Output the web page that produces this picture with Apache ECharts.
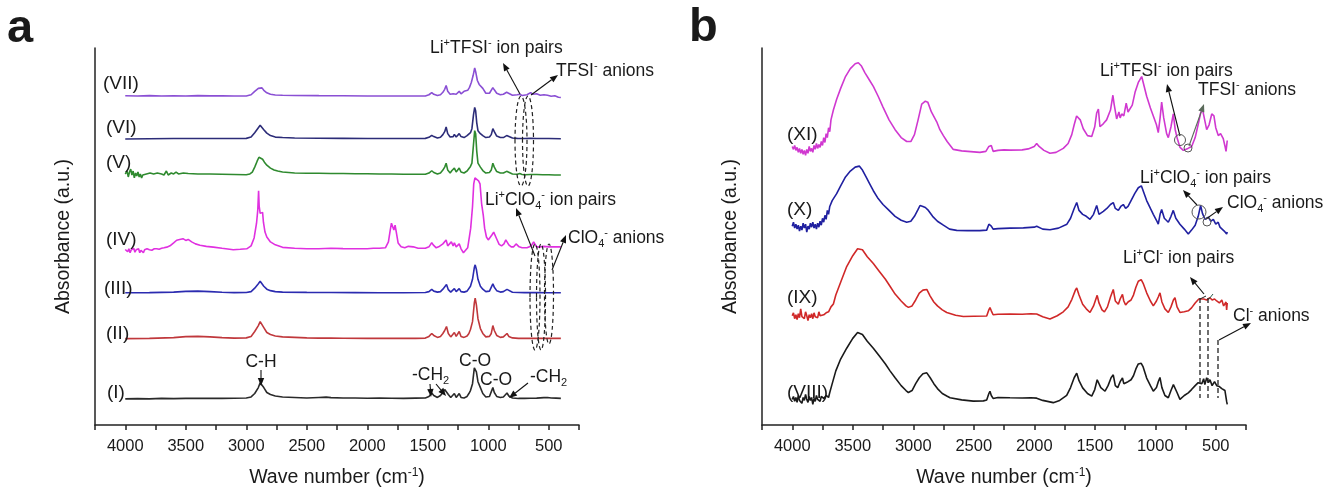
<!DOCTYPE html>
<html><head><meta charset="utf-8">
<script src="https://cdn.jsdelivr.net/npm/echarts@6/dist/echarts.min.js"></script>
<style>html,body{margin:0;padding:0;background:#fff}#c{width:1323px;height:494px}</style>
</head><body><div id="c"></div>
<script>
// ---------- tick labels ----------
const tickLabels = [500,1000,1500,2000,2500,3000,3500,4000];

// ---------- panel a spectra: [wavenumber, absorbance (a.u., offset)] ----------
const specI = [[4000,26.5],[3900,26.8],[3800,26.5],[3700,27],[3600,26.8],[3500,27],[3400,27.2],[3300,27],[3200,27],[3100,27.2],[3000,27.5],[2960,28.5],[2930,32],[2900,38],[2885,43],[2870,42.5],[2855,38],[2830,33],[2800,31],[2760,29.5],[2700,28.5],[2600,28],[2500,27.5],[2400,28],[2340,28.3],[2300,27.8],[2200,27.5],[2100,27.5],[2000,27.2],[1900,27.3],[1800,27.2],[1700,27],[1600,27.3],[1520,27.5],[1490,29],[1467,32.5],[1450,30],[1420,28],[1395,30],[1375,33],[1360,36],[1345,37.5],[1330,31],[1310,28],[1295,30],[1280,32],[1265,28],[1250,30],[1240,32],[1225,28],[1200,27.5],[1175,29],[1160,32],[1147,35],[1130,42],[1115,58],[1108,60],[1098,54],[1085,44],[1065,38],[1045,32],[1020,28.5],[990,29],[975,31],[962,38],[950,33],[930,29],[900,28],[875,28.5],[860,30],[845,32.5],[830,29.5],[800,27.5],[750,27],[700,27],[650,27.2],[600,27.3],[540,27.8],[510,28],[480,27.5],[440,27.3],[400,27]];
const specII = [[4000,87.8],[3800,88],[3600,88.8],[3500,89.8],[3400,90],[3300,89.5],[3200,88.8],[3100,88.3],[3000,88.5],[2960,90],[2930,95],[2900,101],[2885,105],[2870,104],[2855,99],[2830,94],[2800,92],[2760,90.5],[2700,89.5],[2600,89],[2500,88.5],[2400,88.3],[2300,88.3],[2200,88.2],[2000,88],[1800,88],[1600,88],[1520,88.3],[1490,90],[1467,93],[1450,91],[1420,89],[1395,90],[1375,93],[1360,96],[1345,100],[1330,93],[1310,89.5],[1295,91.5],[1280,94],[1265,90],[1250,92],[1240,95],[1225,90],[1200,89],[1175,90.5],[1160,93],[1147,97],[1130,105],[1115,124],[1108,129],[1098,122],[1085,108],[1065,98],[1045,93],[1020,89.5],[990,90],[975,93],[962,101],[950,96],[930,91],[900,89],[875,89.5],[860,91],[845,93],[830,90],[800,88.5],[750,88],[650,88],[550,88.2],[450,88],[400,88]];
const specIII = [[4000,134.3],[3800,134.5],[3600,135],[3500,135.8],[3400,136],[3300,135.5],[3200,134.8],[3100,134.5],[3000,134.6],[2960,135.5],[2930,139],[2900,143.5],[2885,146],[2870,145],[2855,141],[2830,138],[2800,136.5],[2760,135.5],[2700,135],[2500,134.7],[2300,134.6],[2100,134.5],[1900,134.4],[1700,134.4],[1520,134.6],[1490,135.5],[1467,137.8],[1450,136],[1420,135],[1395,135.5],[1375,138],[1360,140],[1345,142.7],[1330,137.5],[1310,135],[1295,136.5],[1280,138.5],[1265,135.5],[1250,137],[1240,138.5],[1225,135.5],[1200,135],[1175,136],[1160,138],[1147,141],[1130,148],[1115,160],[1108,162.7],[1098,158],[1085,148],[1065,141],[1045,138],[1020,135.5],[990,136],[975,138],[962,143.3],[950,140],[930,136.5],[900,135],[875,135.5],[860,136.5],[845,137.8],[830,136],[800,134.8],[700,134.5],[600,134.5],[500,134.4],[400,134.3]];
const specIV = [[4000,178.3],[3990,180],[3980,176],[3970,179],[3960,175],[3950,178],[3940,176.5],[3930,179.5],[3920,175.5],[3910,178],[3900,176],[3890,179],[3880,175],[3870,177.5],[3860,176],[3850,175],[3840,178],[3830,176],[3820,179],[3810,177],[3800,178],[3780,177.5],[3760,179],[3740,179],[3720,178.5],[3700,179.5],[3680,180],[3657,180.7],[3630,182],[3600,185],[3575,187.7],[3550,188.5],[3523,189.3],[3500,187.5],[3480,188.5],[3451,186],[3420,184],[3382,182.7],[3330,181.5],[3272,180.7],[3200,179.5],[3107,178],[3050,178.5],[2996,179],[2960,182],[2935,190],[2915,205],[2905,218],[2898,238],[2893,222],[2885,215],[2875,213],[2865,216],[2858,206],[2845,196],[2830,191],[2800,186],[2760,183],[2700,180.5],[2600,179.5],[2500,179],[2400,179],[2300,179.5],[2200,179.2],[2100,179],[2000,179],[1950,179.5],[1900,179.5],[1850,180],[1825,186],[1810,198],[1800,205],[1790,203],[1780,198],[1770,203],[1760,196],[1745,185],[1720,181],[1690,180],[1660,181.5],[1645,182],[1620,181],[1580,179.5],[1520,179.5],[1490,181],[1467,185.3],[1455,183],[1430,180],[1410,181],[1395,182],[1375,184],[1360,186],[1348,188],[1335,182],[1320,183],[1305,186],[1290,182],[1280,185],[1265,181],[1250,182],[1240,184],[1225,179],[1205,175],[1190,175.5],[1170,180],[1155,192],[1145,200],[1130,222],[1120,245],[1110,251],[1095,250],[1080,248],[1068,245],[1055,225],[1041,213],[1030,200],[1015,191],[1000,188],[985,190],[970,193],[955,196],[944,195],[930,189],[910,183.5],[890,182],[870,184],[855,188],[845,187],[830,183],[810,181],[790,181],[770,184],[760,184.5],[745,181],[720,180],[700,180],[680,180],[660,181],[640,183],[625,186],[612,184],[600,181],[570,181],[540,181.5],[500,181],[460,181],[430,181],[400,181]];
const specV = [[4000,255],[3985,258],[3975,252],[3965,257],[3955,260],[3945,254],[3935,258],[3925,251],[3915,256],[3905,253],[3895,257],[3885,252],[3875,255],[3865,251],[3855,254],[3840,252],[3825,255],[3810,253],[3795,256],[3780,254],[3765,255],[3750,253.5],[3735,256],[3720,254],[3700,255],[3680,254],[3660,258],[3645,254],[3620,256],[3600,255],[3580,257],[3560,255],[3520,256],[3480,255.5],[3400,255],[3300,255],[3200,254.8],[3100,254.5],[3000,254.2],[2970,255],[2950,257],[2930,262],[2910,268],[2895,272],[2880,273],[2865,270],[2850,267],[2830,264],[2800,261],[2770,259],[2740,258],[2700,257],[2650,256.5],[2600,256],[2500,255.8],[2400,255.8],[2300,255.5],[2200,255.5],[2100,255.3],[2000,255.2],[1900,255],[1800,255],[1700,254.8],[1600,254.7],[1520,254.7],[1490,256],[1467,258.3],[1450,256.5],[1420,255],[1395,256],[1375,259],[1360,262],[1348,266],[1335,259],[1315,256],[1300,258.5],[1290,256.5],[1280,261],[1265,257],[1250,259],[1240,261],[1225,257],[1200,256],[1175,258],[1160,260],[1147,262.7],[1135,266],[1122,285],[1112,299],[1104,296],[1095,278],[1085,266],[1065,262],[1045,258.5],[1020,256],[990,256.5],[975,259],[962,266],[950,262],[930,257.5],[900,256],[875,256],[860,257],[848,257.7],[835,256],[800,255],[760,254.8],[740,255.5],[720,254.5],[700,254.3],[650,254.5],[600,254.5],[550,254.3],[500,254.2],[450,254],[400,254]];
const specVI = [[4000,290.5],[3800,290.8],[3600,291],[3400,291],[3200,291],[3000,291.2],[2960,292.5],[2930,297],[2900,302],[2885,304.5],[2870,303.5],[2855,300],[2830,296.5],[2800,294],[2760,292.5],[2700,292],[2600,291.6],[2400,291.3],[2200,291.2],[2000,291],[1800,291],[1600,291],[1520,291.2],[1490,292.3],[1467,294.3],[1450,293],[1420,291.5],[1395,292.3],[1375,295],[1360,298],[1348,302.7],[1335,296],[1315,292.5],[1300,294.5],[1290,293],[1280,295.3],[1265,292.5],[1250,294],[1240,296],[1225,293],[1200,292],[1175,294],[1160,295.5],[1147,297],[1135,301],[1122,315],[1112,322.7],[1104,319],[1095,307],[1085,299],[1065,296],[1045,294],[1020,292],[990,292.5],[975,295],[962,301],[950,298],[930,293.5],[900,292],[875,292],[860,293],[848,294],[835,292.5],[800,291.5],[760,291.2],[700,291],[650,291.2],[600,291],[500,291],[400,290.8]];
const specVII = [[4000,334.5],[3900,334.2],[3800,334.6],[3700,334.3],[3600,334.5],[3500,334.3],[3400,334.6],[3300,334.4],[3200,334.5],[3100,334.3],[3000,334.3],[2960,335.5],[2930,339],[2900,342],[2885,343],[2870,342.5],[2855,340],[2830,337.5],[2800,336],[2760,335.3],[2700,335],[2600,334.8],[2400,334.6],[2200,334.5],[2000,334.3],[1800,334.3],[1600,334.2],[1520,334.3],[1490,335.5],[1467,337.7],[1450,336],[1420,334.8],[1395,335.5],[1375,338],[1360,341],[1348,345],[1335,339],[1315,336],[1300,337.5],[1290,336.5],[1280,338.5],[1265,336],[1250,337.5],[1240,339],[1225,336.5],[1200,339],[1185,338],[1170,340],[1155,343],[1140,348],[1125,355],[1112,362.7],[1104,359],[1090,350],[1075,346],[1060,347],[1045,342],[1020,337],[990,337],[975,339],[962,342.7],[950,340.5],[930,337],[900,335.5],[875,336],[860,337],[848,338],[835,336],[800,335],[760,335.5],[740,336],[720,334.8],[680,335.5],[650,337.7],[630,336],[600,336.5],[570,335],[540,335.5],[510,335],[480,334],[450,334.5],[420,333],[400,332.7]];

// ---------- panel b spectra ----------
const specVIII = [[4000,26],[3990,29],[3980,24],[3970,28],[3960,23],[3950,30],[3940,25],[3930,27],[3920,22],[3910,28],[3900,25],[3890,31],[3880,26],[3870,23],[3860,29],[3850,25],[3840,28],[3830,21],[3820,27],[3810,24],[3800,30],[3790,26],[3780,28],[3770,24],[3760,29],[3740,27],[3720,30],[3700,28],[3690,33],[3672,41],[3640,55],[3600,67],[3550,78],[3500,88],[3460,94],[3446,95],[3420,92],[3380,85],[3330,78],[3280,70],[3230,62],[3192,55],[3150,48],[3100,40],[3060,35],[3040,33],[3010,35],[2980,42],[2950,48],[2920,52],[2888,53],[2860,48],[2830,42],[2800,37],[2760,32],[2723,29.5],[2696,27.7],[2600,25.5],[2504,24.3],[2420,24.5],[2393,25.5],[2375,32],[2366,34.3],[2355,30],[2340,27],[2300,28],[2200,27.7],[2100,27.5],[2030,27.7],[1980,27.3],[1930,25],[1843,22.7],[1790,25],[1732,30],[1700,38],[1670,48],[1649,52.7],[1630,45],[1600,37.7],[1560,32],[1525,29.3],[1500,36],[1480,46],[1470,47],[1450,38],[1415,34.3],[1390,40],[1365,48],[1347,51],[1330,40],[1310,38],[1290,44],[1271,47.7],[1260,42],[1245,40],[1225,44],[1200,46],[1180,50],[1160,57],[1140,62],[1116,62.7],[1100,59],[1071,47.7],[1040,40],[1016,34.3],[990,38],[975,44],[961,48.3],[945,38],[920,30],[892,27.7],[870,35],[850,41],[837,42.7],[820,33],[796,26],[760,30],[727,32.7],[700,36],[670,40],[645,43],[630,44.3],[615,42],[600,47],[590,41],[575,48],[560,43],[548,46],[530,40],[510,44],[492,40],[470,39],[450,37],[435,36],[424,35],[415,33],[410,24],[405,21]];
const specIX = [[4000,111],[3990,114],[3980,108],[3970,112],[3960,107],[3950,113],[3940,109],[3930,118],[3920,110],[3910,112],[3900,108],[3890,115],[3880,111],[3870,106],[3860,112],[3850,109],[3840,113],[3830,108],[3820,114],[3810,110],[3800,112],[3790,109],[3780,115],[3770,111],[3760,113],[3740,112],[3720,114],[3700,115],[3680,120],[3660,123],[3640,132],[3600,145],[3550,161],[3500,172],[3460,179],[3446,180],[3420,178],[3380,171],[3330,164],[3280,156],[3230,148],[3192,141],[3150,133],[3100,126],[3060,121],[3040,119.5],[3010,121],[2980,127],[2950,134],[2920,137],[2888,137.7],[2860,131],[2830,125],[2800,121],[2760,117],[2723,114.3],[2650,111.5],[2586,110.3],[2500,110.5],[2393,110.7],[2375,117],[2366,119.3],[2355,116],[2340,112],[2300,112.5],[2200,112.7],[2100,112.5],[2030,113],[1980,112.7],[1930,110],[1870,107.7],[1810,111],[1760,115],[1720,120],[1689,127.7],[1660,137],[1649,139.3],[1630,132],[1600,122.7],[1570,118],[1539,114.3],[1510,121],[1480,131.7],[1465,124],[1440,117],[1420,115],[1395,120],[1370,130],[1347,137.7],[1330,126],[1305,122.7],[1290,128],[1271,132.7],[1260,126],[1245,122],[1225,125],[1200,127],[1180,132],[1160,140],[1140,146],[1116,147.7],[1100,144],[1071,134.3],[1040,126],[1016,121],[990,126],[975,130],[961,134.3],[945,125],[920,118],[892,114.3],[870,120],[850,127],[837,129.3],[820,120],[796,114.3],[760,115],[727,116],[700,119],[670,124],[640,128],[630,129.3],[600,128],[575,127],[548,129.3],[530,127],[510,128],[492,126],[470,124],[450,127],[435,121],[424,122.7],[415,125],[410,117],[405,124]];
const specX = [[4000,202],[3990,206],[3980,200],[3970,204],[3960,199],[3950,203],[3940,197],[3930,202],[3920,198],[3910,205],[3900,200],[3890,204],[3880,196],[3870,202],[3860,199],[3850,205],[3840,201],[3830,206],[3820,200],[3810,204],[3800,199],[3790,205],[3780,201],[3770,207],[3760,203],[3750,210],[3740,206],[3730,213],[3720,209],[3710,218],[3700,214],[3690,222],[3670,228],[3633,235],[3600,243],[3560,252],[3520,258],[3480,262],[3446,263],[3420,259],[3390,252],[3360,245],[3330,238],[3290,230],[3250,224],[3200,218],[3150,212],[3100,208],[3054,206],[3020,207],[2990,212],[2960,219],[2944,223],[2920,222],[2900,221],[2875,218],[2840,212],[2800,207],[2751,203],[2700,199],[2641,197.7],[2550,197.5],[2450,197.5],[2393,198],[2375,204],[2366,206],[2355,202],[2340,199],[2300,199.5],[2200,200],[2090,200.3],[2000,201],[1980,202],[1930,199],[1870,198.3],[1800,200],[1730,204],[1700,210],[1670,220],[1649,226],[1630,218],[1600,214],[1570,212],[1539,209],[1510,214],[1484,223],[1465,214],[1429,217],[1400,220],[1370,224],[1347,226],[1330,220],[1305,218],[1285,222],[1264,224],[1245,220],[1225,222],[1200,228],[1170,235],[1140,241],[1115,243],[1100,241],[1071,228],[1040,220],[1016,214],[990,208],[975,204],[960,214],[947,219],[925,210],[892,206],[870,212],[851,218],[830,210],[796,204],[760,199],[727,194],[700,198],[670,203],[645,212],[625,223],[610,215],[589,209],[560,211],[540,207],[520,209],[500,204],[480,206],[465,201],[450,203],[430,197],[420,199],[410,194],[405,196]];
const specXI = [[4000,283],[3990,280],[3980,284],[3970,279],[3960,282],[3950,277],[3940,281],[3930,276],[3920,280],[3910,275],[3900,279],[3890,274],[3880,280],[3870,276],[3860,283],[3850,278],[3840,281],[3830,277],[3820,284],[3810,280],[3800,286],[3790,281],[3780,285],[3770,282],[3760,288],[3750,284],[3740,292],[3730,287],[3720,296],[3710,292],[3700,302],[3690,298],[3680,310],[3660,320],[3633,331],[3600,342],[3560,354],[3520,362],[3480,367],[3454,368],[3430,365],[3400,358],[3360,350],[3330,344],[3290,334],[3250,323],[3200,310],[3150,300],[3100,292],[3054,288],[3020,288],[2990,295],[2960,310],[2930,326],[2900,329],[2880,328],[2850,318],[2806,308],[2780,300],[2751,294],[2720,288],[2669,280],[2600,278.5],[2500,277.5],[2449,277],[2400,278],[2375,283],[2365,281],[2355,284],[2340,278],[2300,279],[2250,279.5],[2200,279.3],[2100,279.5],[2050,280.5],[2000,283],[1980,286],[1960,283],[1920,279],[1870,276],[1820,277],[1760,281],[1720,286],[1690,295],[1670,305],[1650,314],[1636,316],[1620,310],[1595,301],[1560,294],[1525,293],[1500,303],[1484,317],[1470,321],[1457,303],[1430,306],[1402,310],[1370,320],[1350,335],[1340,326],[1319,311],[1300,318],[1290,312],[1277,316],[1260,314],[1240,327],[1225,318],[1210,319],[1190,325],[1167,338],[1140,348],[1112,354],[1100,353],[1071,334],[1040,322],[1016,314],[990,305],[975,297],[960,312],[947,328],[930,312],[906,296],[892,292],[870,303],[851,316],[835,300],[818,291],[795,282],[768,279],[754,278],[730,281],[699,283],[670,292],[644,306],[625,317],[610,321],[595,312],[575,300],[555,305],[533,316],[515,314],[500,302],[479,294],[460,296],[438,291],[425,284],[415,278],[410,276],[405,289]];

const namesA = ['(I)','(II)','(III)','(IV)','(V)','(VI)','(VII)'];
const namesB = ['(VIII)','(IX)','(X)','(XI)'];

// ---------- styling / layout ----------
const F = '"Liberation Sans", Arial, sans-serif';
const TXT = '#1a1a1a';
const seriesDefsA = [
  {name:namesA[0], data:specI,   color:'#2a2a2a'},
  {name:namesA[1], data:specII,  color:'#c0383c'},
  {name:namesA[2], data:specIII, color:'#2b2bb0'},
  {name:namesA[3], data:specIV,  color:'#e030e0'},
  {name:namesA[4], data:specV,   color:'#2f8a2f'},
  {name:namesA[5], data:specVI,  color:'#2c2c78'},
  {name:namesA[6], data:specVII, color:'#8a4fd4'}
];
const seriesDefsB = [
  {name:namesB[0], data:specVIII, color:'#1a1a1a'},
  {name:namesB[1], data:specIX,   color:'#d02828'},
  {name:namesB[2], data:specX,    color:'#2020a0'},
  {name:namesB[3], data:specXI,   color:'#d038d0'}
];

function xAxisCfg(idx){
  return {
    gridIndex: idx, type:'value', inverse:true, min:250, max:4250, interval:250,
    axisLine:{show:true, lineStyle:{color:'#222', width:1.5}},
    axisTick:{show:true, length:5, lineStyle:{color:'#222', width:1.5}},
    splitLine:{show:false},
    axisLabel:{margin:13, fontSize:16.5, color:TXT, fontFamily:F,
      formatter: v => tickLabels.includes(v) ? String(v) : ''},
    name:'Wave number (cm{sp|-1})', nameLocation:'middle', nameGap:42,
    nameTextStyle:{fontSize:19.5, color:TXT, fontFamily:F, lineHeight:22,
      rich:{sp:{fontSize:12, color:TXT, fontFamily:F, verticalAlign:'top'}}}
  };
}
function yAxisCfg(idx){
  return {
    gridIndex: idx, type:'value', min:0, max:383,
    axisLine:{show:true, lineStyle:{color:'#222', width:1.5}},
    axisTick:{show:false}, axisLabel:{show:false}, splitLine:{show:false},
    name:'Absorbance (a.u.)', nameLocation:'middle', nameGap:21, nameRotate:90,
    nameTextStyle:{fontSize:19.5, color:TXT, fontFamily:F}
  };
}
const series = [];
seriesDefsA.forEach(s => series.push({type:'line', name:s.name, xAxisIndex:0, yAxisIndex:0, data:s.data, showSymbol:false, lineStyle:{color:s.color, width:1.6}, itemStyle:{color:s.color}, silent:true}));
seriesDefsB.forEach(s => series.push({type:'line', name:s.name, xAxisIndex:1, yAxisIndex:1, data:s.data, showSymbol:false, lineStyle:{color:s.color, width:1.6}, itemStyle:{color:s.color}, silent:true}));

// ---------- annotations ----------
const rich = {
  n:{fontSize:17.5, lineHeight:22, fontFamily:F, color:TXT},
  L:{fontSize:19, lineHeight:22, fontFamily:F, color:TXT},
  sp:{fontSize:11, fontFamily:F, color:TXT, verticalAlign:'top'},
  sb:{fontSize:11, fontFamily:F, color:TXT, verticalAlign:'bottom'}
};
function txt(x, y, s, opt){
  opt = opt || {};
  return {type:'text', x:x, y:y, z:100, silent:true,
    style:{text:s, rich:rich, fill:TXT, font:(opt.font||('17.5px '+F)),
      align:opt.align||'left', verticalAlign:'middle', textAlign:opt.align||'left', textVerticalAlign:'middle'}};
}
function lab(x, y, s){ return txt(x, y, '{L|' + s + '}', {font:'19px '+F}); }
function arrow(x1,y1,x2,y2,color){
  color = color || '#111';
  const a = Math.atan2(y2-y1, x2-x1), L=8, W=3.2;
  const bx = x2 - L*Math.cos(a), by = y2 - L*Math.sin(a);
  const px = -Math.sin(a), py = Math.cos(a);
  return [
    {type:'line', z:100, silent:true, shape:{x1:x1,y1:y1,x2:bx,y2:by}, style:{stroke:color, lineWidth:1.1}},
    {type:'polygon', z:100, silent:true, shape:{points:[[x2,y2],[bx+W*px,by+W*py],[bx-W*px,by-W*py]]}, style:{fill:color}}
  ];
}
function dEll(cx,cy,rx,ry){
  return {type:'ellipse', z:100, silent:true, shape:{cx:cx,cy:cy,rx:rx,ry:ry}, style:{fill:'none', stroke:'#222', lineWidth:1.2, lineDash:[4,3]}};
}
function dLine(x1,y1,x2,y2){
  return {type:'line', z:100, silent:true, shape:{x1:x1,y1:y1,x2:x2,y2:y2}, style:{stroke:'#222', lineWidth:1.3, lineDash:[5,3]}};
}
function circ(cx,cy,r){
  return {type:'circle', z:100, silent:true, shape:{cx:cx,cy:cy,r:r}, style:{fill:'none', stroke:'#555', lineWidth:1}};
}
const LiTFSI = '{n|Li}{sp|+}{n|TFSI}{sp|-}{n| ion pairs}';
const TFSIan = '{n|TFSI}{sp|-}{n| anions}';
const LiClO4 = '{n|Li}{sp|+}{n|ClO}{sb|4}{sp|-}{n| ion pairs}';
const ClO4an = '{n|ClO}{sb|4}{sp|-}{n| anions}';
const LiCl = '{n|Li}{sp|+}{n|Cl}{sp|-}{n| ion pairs}';
const Clan = '{n|Cl}{sp|-}{n| anions}';

let G = [];
// panel letters
G.push(txt(7, 29, 'a', {font:'bold 47px '+F}));
G.push(txt(689, 28, 'b', {font:'bold 47px '+F}));
// spectrum labels panel a
G.push(lab(103, 84, namesA[6]));
G.push(lab(106, 128, namesA[5]));
G.push(lab(106, 163, namesA[4]));
G.push(lab(106, 240, namesA[3]));
G.push(lab(104, 289, namesA[2]));
G.push(lab(106, 334, namesA[1]));
G.push(lab(107, 393, namesA[0]));
// spectrum labels panel b
G.push(lab(787, 135, namesB[3]));
G.push(lab(787, 210, namesB[2]));
G.push(lab(787, 298, namesB[1]));
G.push(lab(787, 393, namesB[0]));
// panel a annotations
G.push(txt(261, 362, '{n|C-H}', {align:'center'}));
G = G.concat(arrow(261, 370, 261, 386));
G.push(txt(412, 375, '{n|-CH}{sb|2}'));
G = G.concat(arrow(430, 384, 431, 397));
G = G.concat(arrow(436, 384, 446, 396));
G.push(txt(459, 361, '{n|C-O}'));
G.push(txt(480, 380, '{n|C-O}'));
G.push(txt(530, 377, '{n|-CH}{sb|2}'));
G = G.concat(arrow(528, 383, 509, 398));
G.push(txt(430, 48, LiTFSI));
G = G.concat(arrow(520, 94, 503, 63));
G.push(txt(556, 71, TFSIan));
G = G.concat(arrow(531, 95, 558, 75));
G.push(dEll(521, 141, 6, 45));
G.push(dEll(528, 141, 5.5, 45));
G.push(txt(485, 200, LiClO4));
G = G.concat(arrow(535, 256, 516, 208));
G.push(txt(568, 238, ClO4an));
G = G.concat(arrow(552, 270, 566, 235));
G.push(dEll(535, 297, 5, 53));
G.push(dEll(541, 297, 4.5, 53));
G.push(dEll(549, 294, 4.5, 50));
// panel b annotations
G.push(txt(1100, 71, LiTFSI));
G = G.concat(arrow(1180, 136, 1167, 84));
G.push(txt(1198, 90, TFSIan));
G = G.concat(arrow(1189, 146, 1204, 104, '#5a6a5a'));
G.push(circ(1180, 140, 5.5));
G.push(circ(1188, 148, 4));
G.push(txt(1140, 178, LiClO4));
G = G.concat(arrow(1197, 205, 1183, 190));
G.push(txt(1227, 203, ClO4an));
G = G.concat(arrow(1206, 219, 1223, 207));
G.push(circ(1199, 212, 7));
G.push(circ(1207, 222, 4));
G.push(txt(1123, 258, LiCl));
G = G.concat(arrow(1204, 294, 1190, 277));
G.push(txt(1233, 316, Clan));
G.push(dLine(1200, 298, 1200, 398));
G.push(dLine(1208, 298, 1208, 398));
G.push(dLine(1218, 340, 1218, 398));
G = G.concat(arrow(1219, 340, 1251, 323));
G.push({type:'line', z:100, silent:true, shape:{x1:1200, y1:299, x2:1206, y2:296}, style:{stroke:'#222', lineWidth:1}});
G.push({type:'line', z:100, silent:true, shape:{x1:1209, y1:299, x2:1213, y2:294}, style:{stroke:'#2a5a4a', lineWidth:1}});

const chart = echarts.init(document.getElementById('c'), null, {renderer:'canvas'});
chart.setOption({
  animation:false,
  backgroundColor:'#fff',
  grid:[
    {left:95, top:48, width:484, height:383, containLabel:false},
    {left:762, top:48, width:484, height:383, containLabel:false}
  ],
  xAxis:[xAxisCfg(0), xAxisCfg(1)],
  yAxis:[yAxisCfg(0), yAxisCfg(1)],
  series: series,
  graphic: G
});
</script>
</body></html>
